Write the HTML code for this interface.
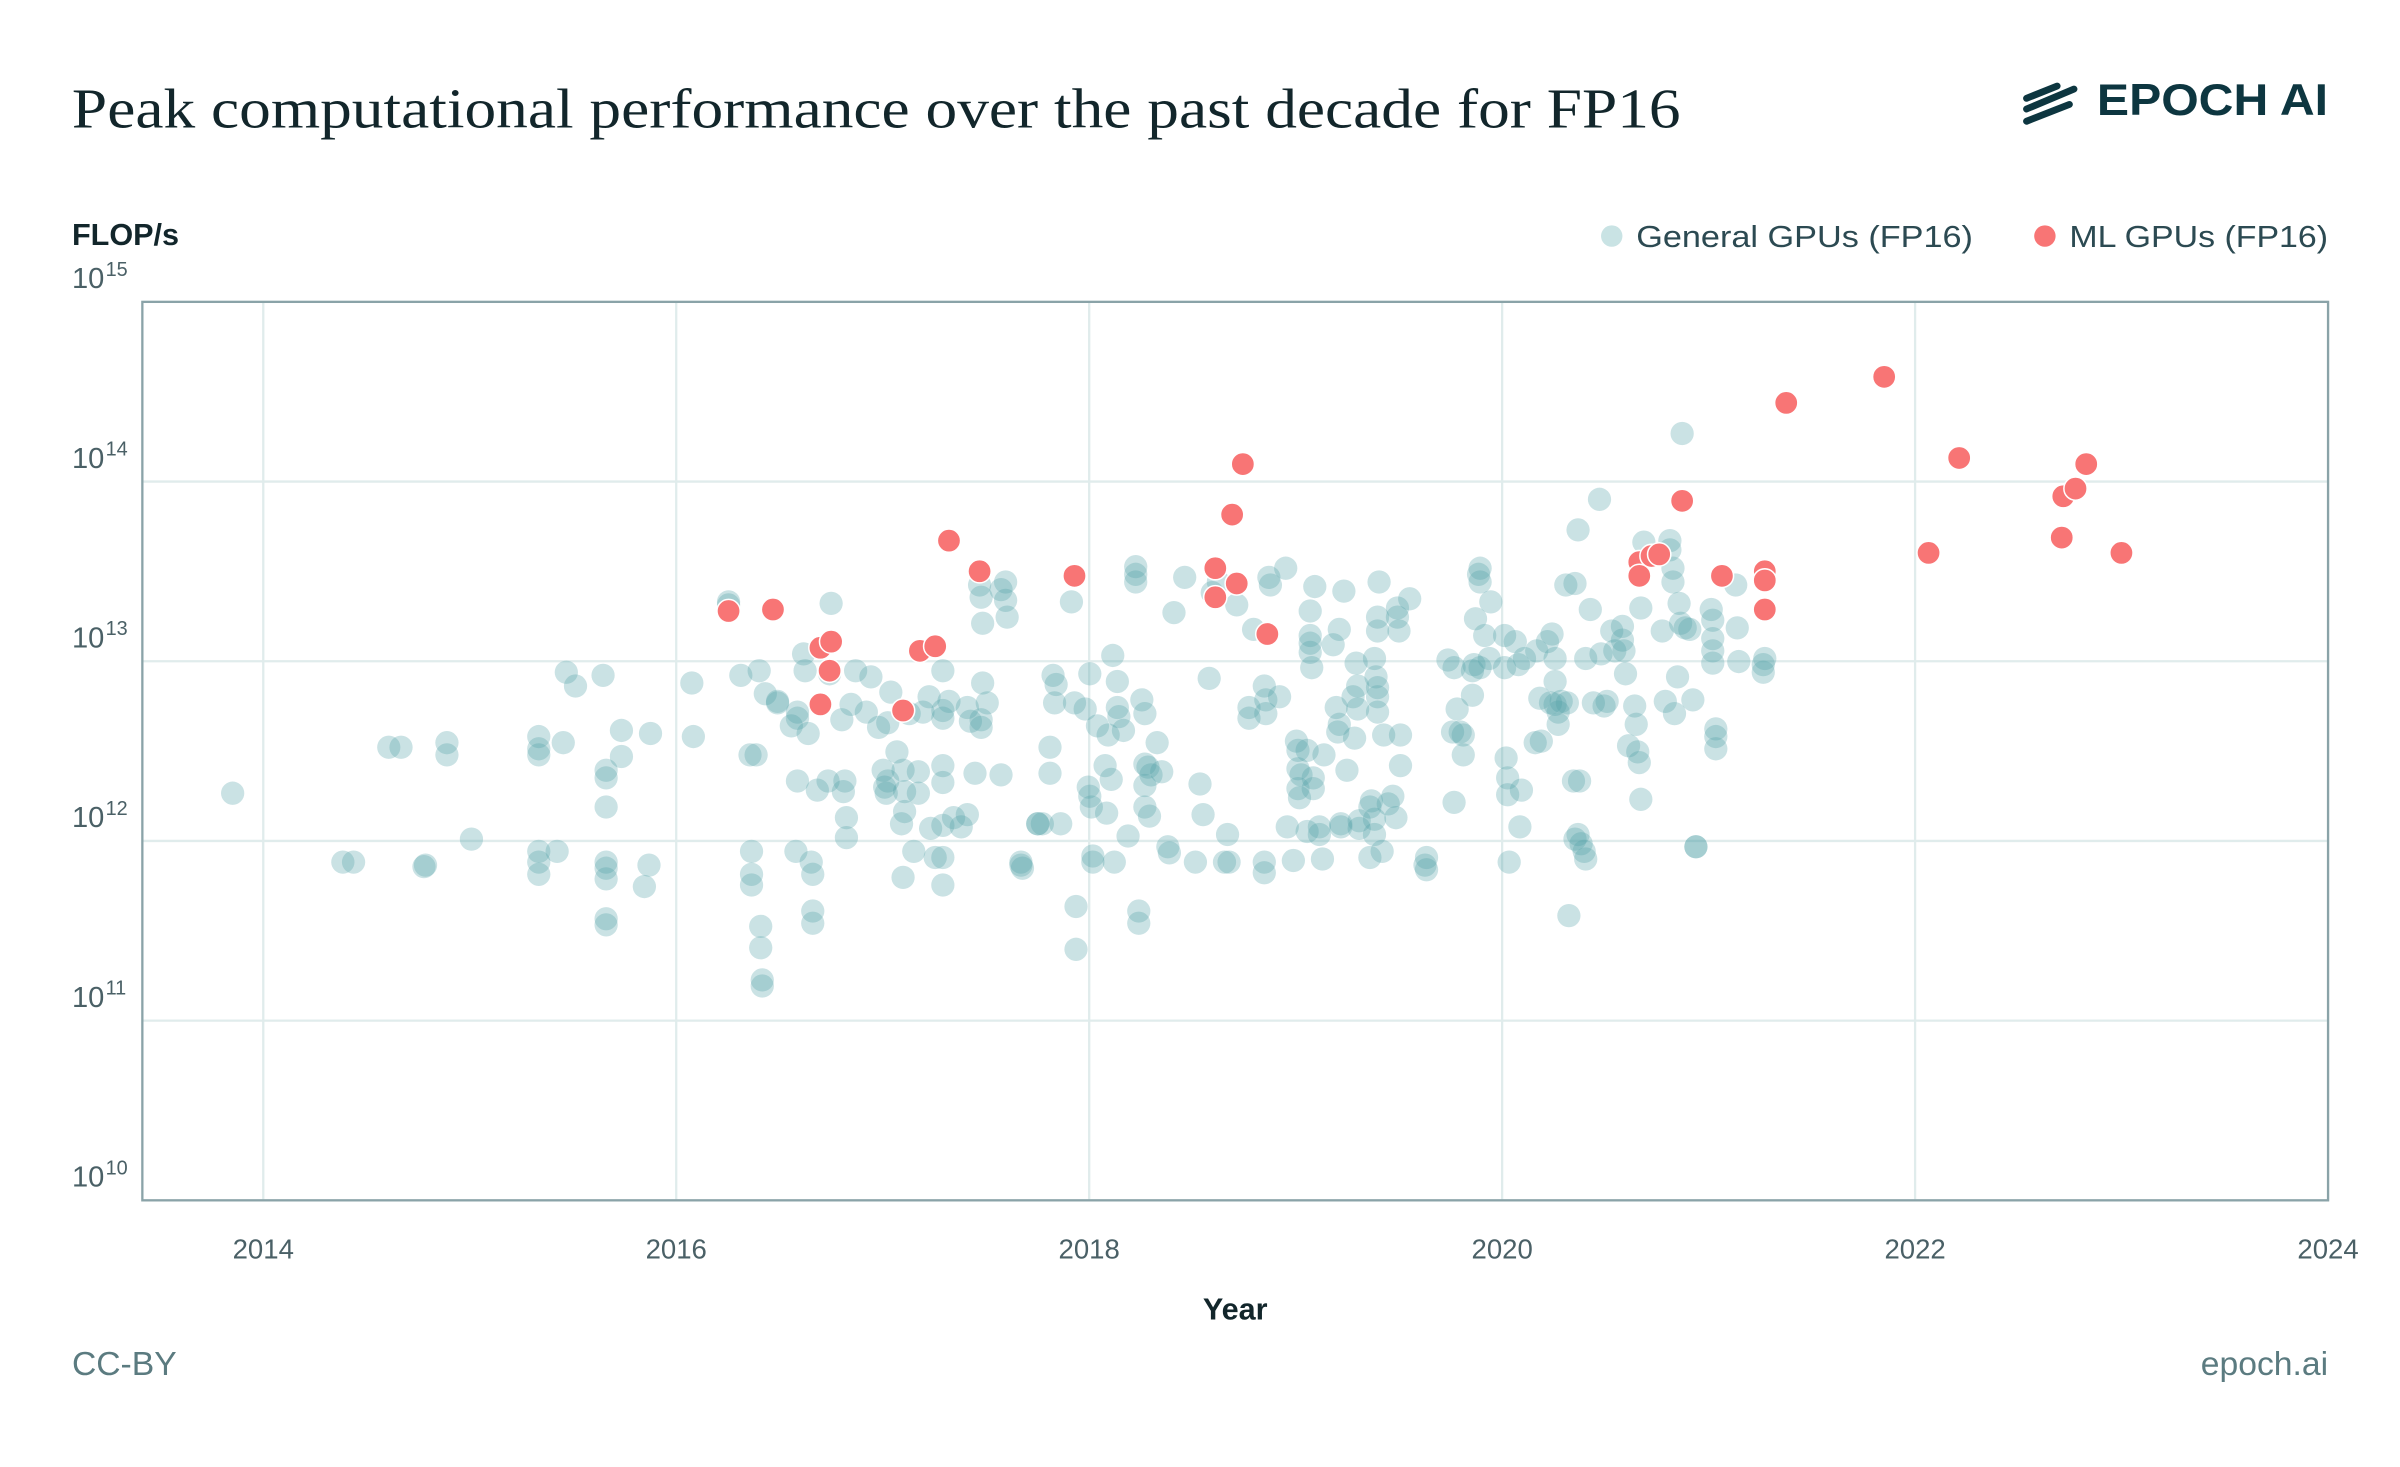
<!DOCTYPE html>
<html><head><meta charset="utf-8"><style>
html,body{margin:0;padding:0;background:#fff;}
svg{display:block;}
</style></head><body>
<svg id="s" width="2400" height="1467" viewBox="0 0 1568 958" xmlns="http://www.w3.org/2000/svg">
<rect width="1568" height="958" fill="#fff"/>
<text x="47" y="83" font-family="Liberation Serif, serif" font-size="37" fill="#12262b" textLength="1051" lengthAdjust="spacingAndGlyphs">Peak computational performance over the past decade for FP16</text>
<g stroke="#0d3640" stroke-width="4.5" stroke-linecap="round">
<line x1="1324" y1="64" x2="1344" y2="56"/><line x1="1324" y1="71" x2="1355" y2="58"/><line x1="1324" y1="79" x2="1352" y2="68"/>
</g>
<text x="1521" y="75" text-anchor="end" font-family="Liberation Sans, sans-serif" font-weight="bold" font-size="29" fill="#0d3640" textLength="151" lengthAdjust="spacingAndGlyphs">EPOCH AI</text>
<text x="47" y="160" font-family="Liberation Sans, sans-serif" font-weight="bold" font-size="20" fill="#12262b">FLOP/s</text>
<circle cx="1053" cy="154" r="7" fill="#c9e3e4"/>
<text x="1069" y="161" font-family="Liberation Sans, sans-serif" font-size="20" fill="#2c4a52" textLength="220" lengthAdjust="spacingAndGlyphs">General GPUs (FP16)</text>
<circle cx="1336" cy="154" r="7" fill="#f87575"/>
<text x="1352" y="161" font-family="Liberation Sans, sans-serif" font-size="20" fill="#2c4a52" textLength="169" lengthAdjust="spacingAndGlyphs">ML GPUs (FP16)</text>
<g id="grid" stroke="#e0ecec" stroke-width="1.5"></g>
<g id="pts"></g>
<rect x="93" y="197" width="1428" height="587" fill="none" stroke="#8aa3a8" stroke-width="1.5"/>
<g id="lab" font-family="Liberation Sans, sans-serif" fill="#4a6066"></g>
<text x="807" y="862" text-anchor="middle" font-family="Liberation Sans, sans-serif" font-weight="bold" font-size="20" fill="#12262b">Year</text>
<text x="47" y="898" font-family="Liberation Sans, sans-serif" font-size="22" fill="#5b7b80">CC-BY</text>
<text x="1521" y="898" text-anchor="end" font-family="Liberation Sans, sans-serif" font-size="22" fill="#5b7b80">epoch.ai</text>
</svg>
<script>
var NS="http://www.w3.org/2000/svg";
function el(t,a,p){var e=document.createElementNS(NS,t);for(var k in a)e.setAttribute(k,a[k]);p.appendChild(e);return e;}
var g=document.getElementById('grid'),lab=document.getElementById('lab'),pts=document.getElementById('pts');
for(var i=0;i<6;i++){var x=172+i*269.8;el('line',{x1:x,y1:197,x2:x,y2:784},g);
 var t=el('text',{x:x,y:822,'text-anchor':'middle','font-size':18},lab);t.textContent=(2014+2*i);}
for(var i=0;i<6;i++){var y=197+i*117.4;el('line',{x1:93,y1:y,x2:1521,y2:y},g);
 var t=el('text',{x:47,y:y-9,'font-size':19},lab);t.textContent='10';
 var s=el('text',{x:69,y:y-17,'font-size':13},lab);s.textContent=(15-i);}
var G=[152,518,224,563,231,563,254,488,262,488,277,566,278,565,292,485,292,493,308,548,352,481,352,489,352,493,352,556,352,563,352,571,364,556,368,485,370,439,376,448,394,441,396,503,396,508,396,527,396,563,396,567,396,574,396,600,396,604,406,477,406,494,421,579,424,565,425,479,452,446,453,481,476,393,476,395,484,441,490,493,494,493,491,556,491,571,491,578,496,438,497,605,497,619,498,640,498,644,500,453,508,459,508,458,517,474,520,556,521,510,521,465,521,469,526,438,525,427,528,479,530,563,531,571,531,595,531,603,534,516,542,440,541,510,543,394,550,470,551,517,552,510,553,534,553,547,556,460,559,438,566,465,569,442,574,475,577,503,578,514,579,518,580,510,580,472,582,452,586,491,589,538,590,503,591,517,591,530,590,573,594,466,597,556,600,504,600,518,603,465,607,455,608,541,611,560,616,438,616,464,616,469,616,500,616,511,616,539,616,560,616,578,620,458,623,534,628,540,632,462,632,532,634,471,637,505,640,382,641,390,641,470,641,475,642,446,642,407,645,459,654,385,657,380,657,392,658,403,654,506,667,565,668,567,667,563,678,538,678,538,681,538,686,488,686,505,688,441,689,459,690,447,693,538,700,393,702,459,703,592,703,620,709,463,711,514,712,440,712,520,713,527,714,559,714,563,717,474,722,500,723,531,724,480,726,509,727,428,728,563,730,445,730,462,731,468,734,477,737,546,742,370,742,375,742,380,744,595,744,603,746,457,748,466,748,499,748,513,748,527,750,501,751,533,752,506,756,485,759,504,763,553,764,557,767,400,774,377,781,563,784,512,786,532,790,443,792,387,796,380,800,563,802,545,803,563,808,395,816,462,816,469,819,411,826,563,826,570,826,448,827,457,827,466,829,377,830,382,836,455,840,371,841,540,845,562,847,484,848,490,848,502,848,515,849,521,850,506,854,490,854,543,856,399,856,415,856,420,856,426,857,436,858,508,858,515,859,383,862,545,862,540,864,561,865,493,871,421,873,462,874,478,875,473,875,411,876,538,876,540,878,386,880,503,884,455,885,482,886,433,887,448,887,463,888,536,888,541,895,527,895,560,896,523,898,430,898,535,898,545,899,442,900,403,900,412,900,449,900,455,900,465,901,380,903,556,904,480,907,525,910,520,912,534,913,397,913,403,914,412,915,500,915,480,921,391,931,565,932,560,932,568,946,431,949,478,950,436,950,524,952,463,954,478,956,480,956,493,962,454,962,438,963,434,964,404,966,375,967,371,967,380,967,436,970,415,973,430,974,393,983,415,983,436,984,495,985,508,985,519,986,563,990,419,992,434,993,540,994,516,996,430,1003,485,1004,425,1006,456,1007,484,1011,419,1013,459,1014,414,1016,430,1016,445,1016,460,1018,465,1018,473,1020,458,1023,382,1024,459,1025,598,1028,510,1029,548,1031,545,1029,381,1031,346,1032,510,1033,551,1035,556,1036,561,1036,430,1039,398,1041,459,1045,326,1046,427,1048,461,1050,458,1053,412,1055,425,1060,409,1060,418,1061,425,1062,440,1064,487,1068,461,1069,473,1070,491,1071,498,1072,522,1072,397,1074,354,1086,412,1088,458,1091,353,1091,359,1093,371,1093,380,1094,466,1096,442,1097,394,1098,407,1099,283,1101,410,1104,411,1106,457,1108,553,1108,553,1118,398,1119,433,1119,417,1119,405,1119,425,1121,476,1121,481,1121,489,1134,382,1135,410,1136,432,1152,434,1152,439,1153,430];
for(var i=0;i<G.length;i+=2)el('circle',{cx:G[i],cy:G[i+1],r:7.6,fill:'rgb(80,160,165)','fill-opacity':0.3},pts);
var M=[476,399,505,398,536,423,543,419,542,438,536,460,590,464,601,425,611,422,620,353,640,373,702,376,794,371,794,390,805,336,808,381,812,303,828,414,1071,367,1071,376,1079,363,1084,362,1099,327,1125,376,1153,373,1153,379,1153,398,1167,263,1231,246,1260,361,1280,299,1347,351,1348,324,1356,319,1363,303,1386,361];
for(var i=0;i<M.length;i+=2)el('circle',{cx:M[i],cy:M[i+1],r:7.6,fill:'#f87575',stroke:'#fff','stroke-width':1},pts);
</script>
</body></html>
